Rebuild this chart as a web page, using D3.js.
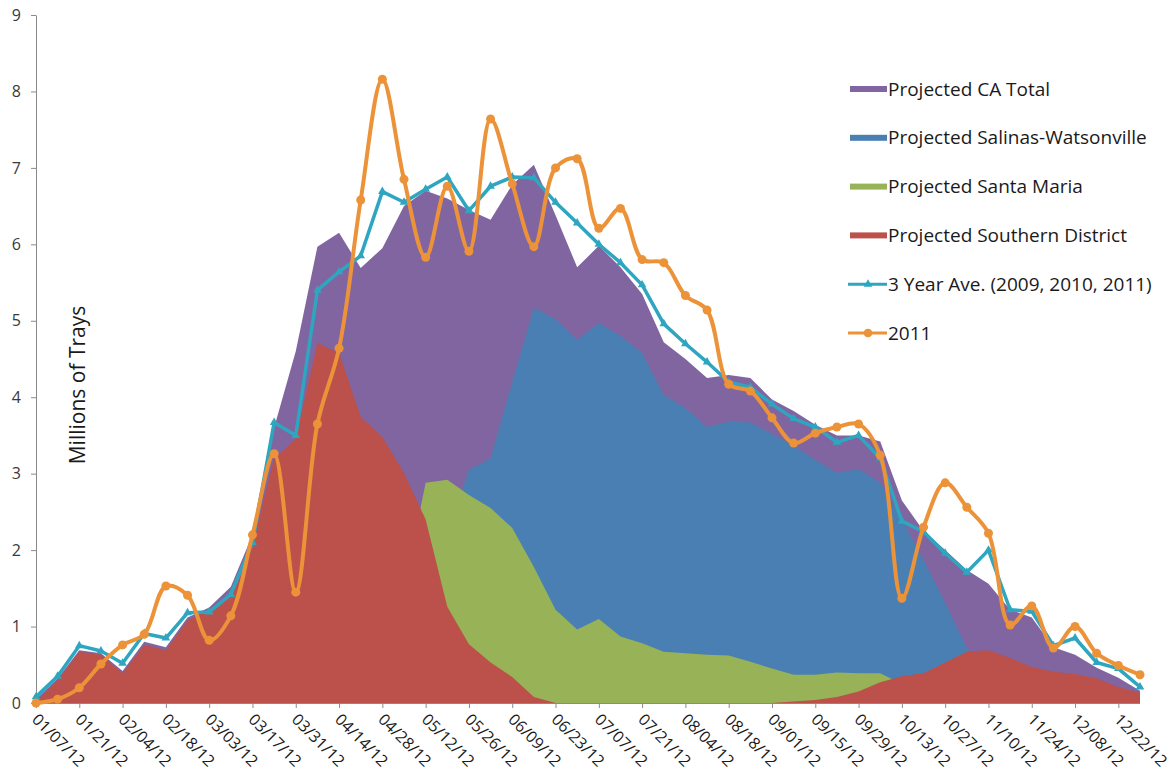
<!DOCTYPE html>
<html>
<head>
<meta charset="utf-8">
<script src="https://cdn.jsdelivr.net/npm/d3@7"></script>
<style>
	body { margin: 0; background: #fff; }
	svg { font-family: "Open Sans", sans-serif; }
</style>
</head>
<body>
<svg></svg>
<script>
// weekly shipping dates (one point per week)
const weeks = [
	"01/07/12", "01/14/12", "01/21/12", "01/28/12", "02/04/12", "02/11/12", "02/18/12", "02/25/12",
	"03/03/12", "03/10/12", "03/17/12", "03/24/12", "03/31/12", "04/07/12", "04/14/12", "04/21/12",
	"04/28/12", "05/05/12", "05/12/12", "05/19/12", "05/26/12", "06/02/12", "06/09/12", "06/16/12",
	"06/23/12", "06/30/12", "07/07/12", "07/14/12", "07/21/12", "07/28/12", "08/04/12", "08/11/12",
	"08/18/12", "08/25/12", "09/01/12", "09/08/12", "09/15/12", "09/22/12", "09/29/12", "10/06/12",
	"10/13/12", "10/20/12", "10/27/12", "11/03/12", "11/10/12", "11/17/12", "11/24/12", "12/01/12",
	"12/08/12", "12/15/12", "12/22/12", "12/29/12"
]

// millions of trays
const caTotal = [0.05, 0.32, 0.69, 0.65, 0.42, 0.8, 0.73, 1.12, 1.25, 1.52, 2.2, 3.6, 4.6, 5.97, 6.15, 5.69,
	5.95, 6.5, 6.7, 6.6, 6.45, 6.32, 6.78, 7.04, 6.38, 5.7, 5.98, 5.7, 5.35, 4.72, 4.5, 4.25,
	4.29, 4.25, 3.97, 3.82, 3.64, 3.5, 3.5, 3.42, 2.65, 2.25, 2.0, 1.74, 1.56, 1.22, 1.12, 0.73,
	0.63, 0.46, 0.33, 0.16]
const salinas = [0, 0, 0, 0, 0, 0, 0, 0, 0, 0, 0, 0, 0, 0, 0, 0,
	0, 0, 0, 2.2, 3.05, 3.2, 4.2, 5.17, 5.02, 4.75, 4.97, 4.8, 4.58, 4.03, 3.86, 3.61,
	3.68, 3.67, 3.52, 3.37, 3.18, 3.01, 3.06, 2.88, 2.4, 1.87, 1.31, 0.72, 0.2, 0, 0, 0,
	0, 0, 0, 0]
const santaMaria = [0, 0, 0, 0, 0, 0, 0, 0, 0, 0, 0, 0, 0, 0, 0, 0,
	0, 1.5, 2.88, 2.92, 2.72, 2.55, 2.29, 1.78, 1.22, 0.96, 1.1, 0.87, 0.78, 0.67, 0.65, 0.63,
	0.62, 0.54, 0.45, 0.37, 0.37, 0.4, 0.39, 0.39, 0.25, 0, 0, 0, 0, 0, 0, 0,
	0, 0, 0, 0]
const southern = [0.02, 0.3, 0.67, 0.63, 0.39, 0.76, 0.69, 1.08, 1.22, 1.44, 2.05, 3.2, 3.45, 4.71, 4.58, 3.74,
	3.48, 3.01, 2.4, 1.26, 0.77, 0.53, 0.34, 0.08, 0, 0, 0, 0, 0, 0, 0, 0,
	0, 0, 0, 0.02, 0.04, 0.08, 0.15, 0.27, 0.35, 0.39, 0.53, 0.67, 0.69, 0.59, 0.47, 0.41,
	0.38, 0.32, 0.21, 0.13]
const avg3yr = [0.08, 0.35, 0.75, 0.68, 0.52, 0.91, 0.85, 1.18, 1.19, 1.42, 2.1, 3.67, 3.5, 5.4, 5.64, 5.85,
	6.69, 6.55, 6.72, 6.88, 6.44, 6.76, 6.88, 6.87, 6.55, 6.28, 6.0, 5.76, 5.47, 4.96, 4.7, 4.46,
	4.2, 4.13, 3.91, 3.72, 3.61, 3.41, 3.5, 3.2, 2.38, 2.24, 1.96, 1.71, 2.0, 1.22, 1.2, 0.75,
	0.85, 0.53, 0.45, 0.21]
const y2011 = [0.0, 0.05, 0.2, 0.51, 0.76, 0.9, 1.53, 1.41, 0.82, 1.14, 2.2, 3.26, 1.45, 3.65, 4.64, 6.58,
	8.16, 6.85, 5.83, 6.76, 5.91, 7.64, 6.79, 5.97, 7.0, 7.12, 6.21, 6.47, 5.8, 5.76, 5.33, 5.14,
	4.17, 4.08, 3.73, 3.4, 3.53, 3.61, 3.65, 3.24, 1.37, 2.3, 2.88, 2.56, 2.22, 1.02, 1.27, 0.72,
	1.0, 0.65, 0.49, 0.37]

const yTicks = [0, 1, 2, 3, 4, 5, 6, 7, 8, 9]
const areaNames = ["Projected CA Total", "Projected Salinas-Watsonville", "Projected Santa Maria", "Projected Southern District"]
const areaColors = ["#8065a0", "#4a7fb4", "#98b257", "#bb514a"]
const lineNames = ["3 Year Ave. (2009, 2010, 2011)", "2011"]
const lineColors = ["#2ea6c0", "#ec9238"]

const svg = d3.select("svg").attr("width", 1171).attr("height", 779)

const x = d3.scalePoint().domain(weeks).range([36, 1140])
const y = d3.scaleLinear().domain([0, 9]).range([703, 15])

// overlapping areas, all from zero (total at the back)
const areaGen = d3
	.area()
	.x((d, i) => x(weeks[i]))
	.y0(y(0))
	.y1((d) => y(d))

svg
	.selectAll("path.area")
	.data([caTotal, salinas, santaMaria, southern])
	.enter()
	.append("path")
	.attr("class", "area")
	.attr("d", (d) => areaGen(d))
	.style("fill", (d, i) => areaColors[i])

// axes
const xAxis = svg
	.append("g")
	.attr("transform", `translate(0, ${y(0)})`)
	.call(
		d3
			.axisBottom(x)
			.tickValues(weeks.filter((d, i) => i % 2 === 0))
			.tickSize(5)
			.tickSizeOuter(0)
	)
xAxis.select(".domain").attr("stroke", "#8a8a8a").attr("d", `M36,0.5H1140`)
xAxis.selectAll(".tick line").attr("stroke", "#8a8a8a")
xAxis
	.selectAll(".tick text")
	.attr("x", 0)
	.attr("y", 0)
	.attr("dy", "0.75em")
	.attr("transform", "translate(3, 9) rotate(45)")
	.style("text-anchor", "start")
	.style("font-size", "16px")
	.style("font-family", "Open Sans")
	.style("fill", "#1a1a1a")

const yAxis = svg
	.append("g")
	.attr("transform", `translate(36, 0)`)
	.call(d3.axisLeft(y).tickValues(yTicks).tickFormat(d3.format("d")).tickSize(5).tickSizeOuter(0))
yAxis.select(".domain").attr("stroke", "#8a8a8a")
yAxis.selectAll(".tick line").attr("stroke", "#8a8a8a")
yAxis
	.selectAll(".tick text")
	.attr("x", -15)
	.style("font-size", "16px")
	.style("font-family", "Open Sans")
	.style("fill", "#3a3a3a")

// axis title sits between the 3 and 5 ticks
svg
	.append("text")
	.attr("transform", "translate(85, 385) rotate(-90)")
	.style("text-anchor", "middle")
	.style("font-size", "21px")
	.style("fill", "#1a1a1a")
	.text("Millions of Trays")

// 3 year average: straight segments with triangles
const straight = d3
	.line()
	.x((d, i) => x(weeks[i]))
	.y((d) => y(d))

svg
	.append("path")
	.datum(avg3yr)
	.attr("d", straight)
	.style("fill", "none")
	.style("stroke", lineColors[0])
	.style("stroke-width", 3.5)
	.style("stroke-linejoin", "round")

svg
	.selectAll("path.tri")
	.data(avg3yr)
	.enter()
	.append("path")
	.attr("class", "tri")
	.attr("d", d3.symbol(d3.symbolTriangle).size(32))
	.attr("transform", (d, i) => `translate(${x(weeks[i])}, ${y(d)})`)
	.style("fill", lineColors[0])

// 2011: smoothed line with dots
const smooth = d3
	.line()
	.curve(d3.curveCatmullRom)
	.x((d, i) => x(weeks[i]))
	.y((d) => y(d))

svg
	.append("path")
	.datum(y2011)
	.attr("d", smooth)
	.style("fill", "none")
	.style("stroke", lineColors[1])
	.style("stroke-width", 4)

svg
	.selectAll("circle.dot")
	.data(y2011)
	.enter()
	.append("circle")
	.attr("class", "dot")
	.attr("cx", (d, i) => x(weeks[i]))
	.attr("cy", (d) => y(d))
	.attr("r", 4.5)
	.style("fill", lineColors[1])

// legend
const legendY = (i) => 89 + i * 48.8

const legAreas = svg
	.selectAll("g.legArea")
	.data(areaNames)
	.enter()
	.append("g")
	.attr("class", "legArea")
	.attr("transform", (d, i) => `translate(850, ${legendY(i)})`)

legAreas
	.append("rect")
	.attr("x", 0)
	.attr("y", -3)
	.attr("width", 37)
	.attr("height", 6)
	.style("fill", (d, i) => areaColors[i])

legAreas
	.append("text")
	.attr("x", 38)
	.attr("dy", "0.35em")
	.style("font-size", "19px")
	.style("fill", "#1a1a1a")
	.text((d) => d)

const legLines = svg
	.selectAll("g.legLine")
	.data(lineNames)
	.enter()
	.append("g")
	.attr("class", "legLine")
	.attr("transform", (d, i) => `translate(850, ${legendY(i + 4)})`)

legLines
	.append("line")
	.attr("x1", -2)
	.attr("x2", 37)
	.style("stroke", (d, i) => lineColors[i])
	.style("stroke-width", 3)

legLines
	.append("path")
	.attr("d", (d, i) => d3.symbol(i === 0 ? d3.symbolTriangle : d3.symbolCircle).size(i === 0 ? 32 : 60)())
	.attr("transform", "translate(18, 0)")
	.style("fill", (d, i) => lineColors[i])

legLines
	.append("text")
	.attr("x", 38)
	.attr("dy", "0.35em")
	.style("font-size", "19px")
	.style("fill", "#1a1a1a")
	.text((d) => d)
</script>
</body>
</html>
